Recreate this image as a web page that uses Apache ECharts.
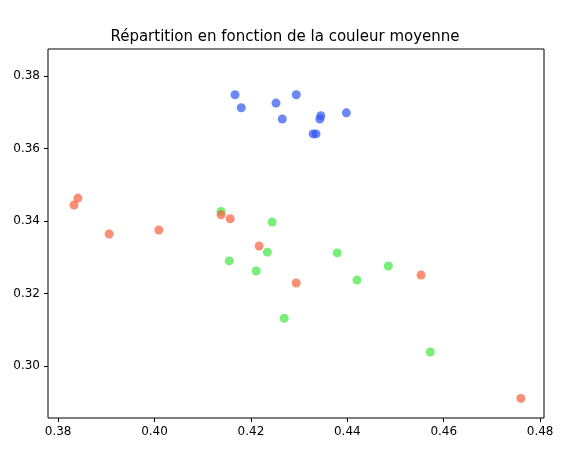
<!DOCTYPE html>
<html>
<head>
<meta charset="utf-8">
<script src="https://cdn.jsdelivr.net/npm/echarts@6/dist/echarts.min.js"></script>
<style>html,body{margin:0;background:#fff}#c{width:570px;height:461px}</style>
</head>
<body>
<div id="c"></div>
<script>
var bluePts = [[0.4167,0.3748],[0.4180,0.3712],[0.4252,0.3725],[0.4294,0.3748],[0.4265,0.3681],
  [0.4345,0.3690],[0.4343,0.3681],[0.4329,0.3640],[0.4335,0.3640],[0.4398,0.3698]];
var greenPts = [[0.4138,0.3426],[0.4244,0.3397],[0.4155,0.3290],[0.4234,0.3314],[0.4211,0.3262],
  [0.4379,0.3312],[0.4420,0.3237],[0.4485,0.3276],[0.4269,0.3132],[0.4572,0.3039]];
var orangePts = [[0.3833,0.3444],[0.3841,0.3463],[0.3906,0.3364],[0.4009,0.3375],[0.4138,0.3417],
  [0.4157,0.3406],[0.4217,0.3331],[0.4294,0.3229],[0.4553,0.3251],[0.4760,0.2911]];
var xTicks = [0.38,0.40,0.42,0.44,0.46,0.48];
var yTicks = [0.30,0.32,0.34,0.36,0.38];

var chart = echarts.init(document.getElementById('c'));
function ser(data, color) {
  return {type:'scatter', data:data, symbolSize:9,
    itemStyle:{color:color, opacity:0.7}};
}
chart.setOption({
  animation:false,
  title:{text:'Répartition en fonction de la couleur moyenne', left:'center', top:25,
    textStyle:{fontSize:15, fontWeight:'normal', color:'#000', fontFamily:'DejaVu Sans'}},
  grid:{left:48, right:26, top:49, bottom:43, show:true, borderColor:'#000', borderWidth:1},
  xAxis:{type:'value', min:0.3779, max:0.4808,
    axisLine:{show:false}, splitLine:{show:false},
    axisTick:{show:true, customValues:xTicks, length:4, lineStyle:{color:'#000'}},
    axisLabel:{customValues:xTicks, color:'#000', fontSize:12, fontFamily:'DejaVu Sans',
      formatter:function(v){return v.toFixed(2);}}},
  yAxis:{type:'value', min:0.2857, max:0.3874,
    axisLine:{show:false}, splitLine:{show:false},
    axisTick:{show:true, customValues:yTicks, length:4, lineStyle:{color:'#000'}},
    axisLabel:{customValues:yTicks, color:'#000', fontSize:12, fontFamily:'DejaVu Sans',
      formatter:function(v){return v.toFixed(2);}}},
  series:[ser(bluePts,'#2e55f0'), ser(greenPts,'#3ee83e'), ser(orangePts,'#f8603c')]
});
</script>
</body>
</html>
